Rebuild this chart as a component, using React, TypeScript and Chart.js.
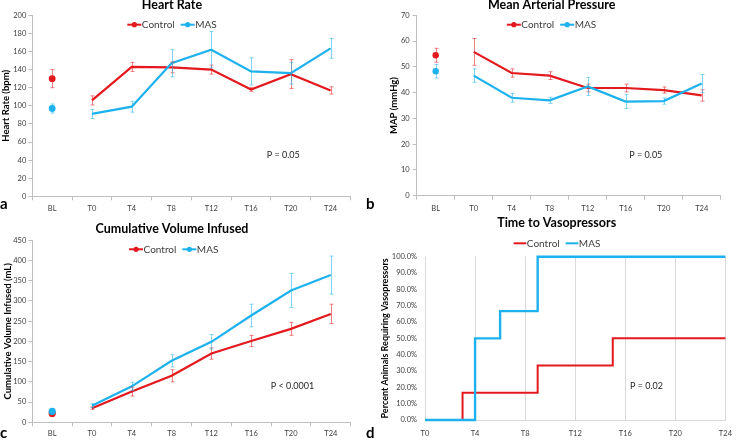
import React, { useEffect, useRef } from 'react';
import { Chart, registerables } from 'chart.js';

Chart.register(...registerables);

// ---------------- data ----------------
const categories = ['BL', 'T0', 'T4', 'T8', 'T12', 'T16', 'T20', 'T24'];

const hrControl = [130, 106, 143, 142.5, 140, 118, 135, 117];
const hrControlErr = [10, 5, 5, 6, 5, 2, 16, 4];
const hrMAS = [97, 91, 99, 147, 162, 138, 136, 163.5];
const hrMASErr = [5, 5, 6, 15, 20, 15, 12, 11];

const mapControl = [54.5, 55.8, 47.6, 46.6, 41.8, 41.8, 41.0, 38.9];
const mapControlErr = [2.7, 5.2, 1.6, 1.5, 1.5, 1.5, 1.2, 2.2];
const mapMAS = [48.3, 46.6, 38.0, 37.0, 42.4, 36.5, 36.7, 43.5];
const mapMASErr = [2.6, 2.6, 1.7, 1.2, 3.5, 2.7, 1.2, 3.5];

const volControl = [22, 35, 76, 115, 170, 201, 231, 268];
const volControlErr = [0, 3, 11, 15, 14, 14, 16, 24];
const volMAS = [27, 41, 89, 152, 199, 264, 326, 364];
const volMASErr = [0, 5, 10, 15, 18, 28, 42, 47];

const vasoControlHours = [0, 3, 9, 15, 24];
const vasoControlPct = [0, 16.7, 33.3, 50, 50];
const vasoMASHours = [0, 4, 6, 9, 24];
const vasoMASPct = [0, 50, 66.7, 100, 100];

const seriesNames = ['Control', 'MAS'];

// ---------------- styles ----------------
const FONT = 'Lato';
const RED = '#E3191E';
const BLUE = '#1DB2EE';
const RED_ERR = 'rgba(227,25,30,0.55)';
const BLUE_ERR = 'rgba(29,178,238,0.55)';
const AXIS = '#BFBFBF';
const GRID = '#D9D9D9';
const TICK = '#404040';

// ---------------- plugins ----------------
const errorBarPlugin = {
  id: 'errorBars',
  afterDatasetsDraw(chart: any) {
    const ctx = chart.ctx;
    chart.data.datasets.forEach((ds: any, di: number) => {
      if (!ds.errors) return;
      const meta = chart.getDatasetMeta(di);
      const yScale = chart.scales[meta.yAxisID];
      ctx.save();
      ctx.strokeStyle = ds.errorColor;
      ctx.lineWidth = 1;
      meta.data.forEach((pt: any, i: number) => {
        const v = ds.data[i];
        const e = ds.errors[i];
        if (v == null || !e) return;
        const x = Math.round(pt.x) + 0.5;
        const yT = yScale.getPixelForValue(v + e);
        const yB = yScale.getPixelForValue(v - e);
        ctx.beginPath();
        ctx.moveTo(x, yT);
        ctx.lineTo(x, yB);
        ctx.moveTo(x - 2, yT);
        ctx.lineTo(x + 2, yT);
        ctx.moveTo(x - 2, yB);
        ctx.lineTo(x + 2, yB);
        ctx.stroke();
      });
      ctx.restore();
    });
  },
};

const textPlugin = {
  id: 'panelText',
  afterDraw(chart: any, _a: any, opts: any) {
    const ctx = chart.ctx;
    const items = (opts && opts.items) || [];
    for (let i = 0; i < items.length; i++) {
      const it = items[i];
      ctx.save();
      ctx.font = it.font;
      ctx.fillStyle = it.color || '#000';
      ctx.textAlign = it.align || 'center';
      ctx.textBaseline = 'middle';
      ctx.fillText(it.text, it.x, it.y);
      ctx.restore();
    }
  },
};

const lineLegendPlugin = {
  id: 'lineLegend',
  afterDraw(chart: any, _a: any, opts: any) {
    if (!opts || !opts.show) return;
    const ctx = chart.ctx;
    ctx.save();
    ctx.font = `${opts.fontSize}px ${FONT}`;
    const items = chart.data.datasets.map((ds: any) => ({ label: ds.label, color: ds.borderColor }));
    const widths = items.map((it: any) => opts.markerW + opts.textGap + ctx.measureText(it.label).width);
    const total = widths.reduce((a: number, b: number) => a + b, 0) + opts.itemGap * (items.length - 1);
    let x = opts.cx - total / 2;
    items.forEach((it: any, i: number) => {
      ctx.strokeStyle = it.color;
      ctx.lineWidth = 2;
      ctx.beginPath();
      ctx.moveTo(x, opts.cy);
      ctx.lineTo(x + opts.markerW, opts.cy);
      ctx.stroke();
      if (opts.dot) {
        ctx.fillStyle = it.color;
        ctx.beginPath();
        ctx.arc(x + opts.markerW / 2, opts.cy, opts.dot, 0, Math.PI * 2);
        ctx.fill();
      }
      ctx.fillStyle = TICK;
      ctx.textAlign = 'left';
      ctx.textBaseline = 'middle';
      ctx.fillText(it.label, x + opts.markerW + opts.textGap, opts.cy);
      x += widths[i] + opts.itemGap;
    });
    ctx.restore();
  },
};

// ---------------- config builders ----------------
function lineDataset(label: string, data: number[], errors: number[], color: string, errColor: string, blRadius: number, order: number) {
  return {
    label,
    data,
    errors,
    errorColor: errColor,
    borderColor: color,
    backgroundColor: color,
    borderWidth: 2.2,
    tension: 0,
    order,
    clip: 6,
    pointRadius: (c: any) => (c.dataIndex === 0 ? blRadius : 0),
    pointHoverRadius: (c: any) => (c.dataIndex === 0 ? blRadius : 0),
    pointBackgroundColor: color,
    pointBorderColor: color,
    pointBorderWidth: 0,
    segment: {
      borderColor: (c: any) => (c.p0DataIndex === 0 ? 'rgba(0,0,0,0)' : undefined),
    },
  };
}

interface CatPanel {
  ctrl: number[];
  ctrlErr: number[];
  mas: number[];
  masErr: number[];
  yMax: number;
  yStep: number;
  yTitle: string;
  yTitlePad: number;
  yW: number;
  yTickPad: number;
  xH: number;
  xTickPad: number;
  blRadius: number;
  padding: any;
  title: string;
  titleX: number;
  titleY: number;
  legendX: number;
  legendY: number;
  pText: string;
  pX: number;
  pY: number;
}

function categoryConfig(p: CatPanel): any {
  const tickFont = { family: FONT, size: 7.5 };
  return {
    type: 'line',
    data: {
      labels: categories,
      datasets: [
        lineDataset(seriesNames[0], p.ctrl, p.ctrlErr, RED, RED_ERR, p.blRadius, 1),
        lineDataset(seriesNames[1], p.mas, p.masErr, BLUE, BLUE_ERR, p.blRadius, 0),
      ],
    },
    options: {
      responsive: false,
      animation: false,
      events: [],
      layout: { padding: p.padding },
      scales: {
        x: {
          type: 'category',
          offset: true,
          grid: { display: true, drawOnChartArea: false, drawTicks: true, tickLength: 4, offset: true, color: AXIS },
          border: { display: true, color: AXIS, width: 1 },
          ticks: { font: tickFont, color: TICK, padding: p.xTickPad, maxRotation: 0, autoSkip: false },
          afterFit: (s: any) => {
            s.height = p.xH;
          },
        },
        y: {
          min: 0,
          max: p.yMax,
          ticks: { stepSize: p.yStep, font: tickFont, color: TICK, padding: p.yTickPad },
          grid: { display: true, drawOnChartArea: false, drawTicks: true, tickLength: 4, color: AXIS },
          border: { display: true, color: AXIS, width: 1 },
          title: {
            display: true,
            text: p.yTitle,
            color: '#000',
            font: { family: FONT, size: 9.5, weight: 'bold' },
            padding: { top: p.yTitlePad, bottom: 0 },
          },
          afterFit: (s: any) => {
            s.width = p.yW;
          },
        },
      },
      plugins: {
        legend: { display: false },
        tooltip: { enabled: false },
        lineLegend: { show: true, cx: p.legendX, cy: p.legendY, fontSize: 10, markerW: 14, textGap: 0.5, itemGap: 6, dot: 2.6 },
        panelText: {
          items: [
            { text: p.title, x: p.titleX, y: p.titleY, font: `bold 12.5px ${FONT}`, color: '#000', align: 'center' },
            { text: p.pText, x: p.pX, y: p.pY, font: `9px ${FONT}`, color: '#262626', align: 'left' },
          ],
        },
      },
    },
    plugins: [errorBarPlugin, lineLegendPlugin, textPlugin],
  };
}

function vasoConfig(): any {
  const tickFont = { family: FONT, size: 7.5 };
  const ctrlPts = vasoControlHours.map((h, i) => ({ x: h, y: vasoControlPct[i] }));
  const masPts = vasoMASHours.map((h, i) => ({ x: h, y: vasoMASPct[i] }));
  return {
    type: 'line',
    data: {
      datasets: [
        { label: seriesNames[0], data: ctrlPts, borderColor: RED, backgroundColor: RED, borderWidth: 2, stepped: 'before', pointRadius: 0, order: 1, clip: 6 },
        { label: seriesNames[1], data: masPts, borderColor: BLUE, backgroundColor: BLUE, borderWidth: 2.4, stepped: 'before', pointRadius: 0, order: 0, clip: 6 },
      ],
    },
    options: {
      responsive: false,
      animation: false,
      events: [],
      layout: { padding: { left: 0, top: 48.7, right: 10.3, bottom: 5 } },
      scales: {
        x: {
          type: 'linear',
          min: 0,
          max: 24,
          ticks: { stepSize: 4, font: tickFont, color: TICK, padding: 9, maxRotation: 0, callback: (v: any) => 'T' + v },
          grid: { display: true, drawOnChartArea: true, drawTicks: false, color: GRID },
          border: { display: true, color: GRID },
          afterFit: (s: any) => {
            s.height = 18;
          },
        },
        y: {
          min: 0,
          max: 100,
          ticks: { stepSize: 10, font: tickFont, color: TICK, padding: 8, callback: (v: any) => Number(v).toFixed(1) + '%' },
          grid: { display: false, drawTicks: false },
          border: { display: false },
          title: {
            display: true,
            text: 'Percent Animals Requiring Vasopressors',
            color: '#000',
            font: { family: FONT, size: 9, weight: 'bold' },
            padding: { top: 9.6, bottom: 0 },
          },
          afterFit: (s: any) => {
            s.width = 55;
          },
        },
      },
      plugins: {
        legend: { display: false },
        tooltip: { enabled: false },
        lineLegend: { show: true, cx: 187, cy: 35.3, fontSize: 10, markerW: 12.7, textGap: 0.5, itemGap: 6, dot: 0 },
        panelText: {
          items: [
            { text: 'Time to Vasopressors', x: 186.7, y: 14.5, font: `bold 12.5px ${FONT}`, color: '#000', align: 'center' },
            { text: 'P = 0.02', x: 260, y: 177.7, font: `9px ${FONT}`, color: '#262626', align: 'left' },
          ],
        },
      },
    },
    plugins: [lineLegendPlugin, textPlugin],
  };
}

const panelA: CatPanel = {
  ctrl: hrControl, ctrlErr: hrControlErr, mas: hrMAS, masErr: hrMASErr,
  yMax: 200, yStep: 20, yTitle: 'Heart Rate (bpm)', yTitlePad: 0.3,
  yW: 32.3, yTickPad: 2, xH: 16, xTickPad: 4, blRadius: 3.4,
  padding: { left: 0, top: 15.3, right: 19.5, bottom: 7.7 },
  title: 'Heart Rate', titleX: 172, titleY: 5,
  legendX: 172, legendY: 24.7,
  pText: 'P = 0.05', pX: 266.7, pY: 155,
};

const panelB: CatPanel = {
  ctrl: mapControl, ctrlErr: mapControlErr, mas: mapMAS, masErr: mapMASErr,
  yMax: 70, yStep: 10, yTitle: 'MAP (mmHg)', yTitlePad: 18.3,
  yW: 46.7, yTickPad: 3, xH: 16, xTickPad: 4, blRadius: 3.2,
  padding: { left: 0, top: 15.3, right: 20.3, bottom: 8.3 },
  title: 'Mean Arterial Pressure', titleX: 181.7, titleY: 5,
  legendX: 181.5, legendY: 24.7,
  pText: 'P = 0.05', pX: 259.3, pY: 155,
};

const panelC: CatPanel = {
  ctrl: volControl, ctrlErr: volControlErr, mas: volMAS, masErr: volMASErr,
  yMax: 450, yStep: 50, yTitle: 'Cumulative Volume Infused (mL)', yTitlePad: 2.6,
  yW: 32.3, yTickPad: 2, xH: 16, xTickPad: 3, blRadius: 3.6,
  padding: { left: 0, top: 20.3, right: 19.3, bottom: 4.7 },
  title: 'Cumulative Volume Infused', titleX: 172, titleY: 9.3,
  legendX: 173.7, legendY: 29.3,
  pText: 'P < 0.0001', pX: 270.7, pY: 165.7,
};

function ChartPanel(props: { left: number; top: number; width: number; height: number; make: () => any }) {
  const ref = useRef<HTMLCanvasElement>(null);
  useEffect(() => {
    const chart = new Chart(ref.current as HTMLCanvasElement, props.make());
    return () => chart.destroy();
  }, []);
  return (
    <canvas
      ref={ref}
      width={props.width}
      height={props.height}
      style={{ position: 'absolute', left: props.left, top: props.top, width: props.width, height: props.height }}
    />
  );
}

const letterStyle: React.CSSProperties = {
  position: 'absolute',
  fontFamily: FONT,
  fontWeight: 'bold',
  fontSize: 15,
  lineHeight: '15px',
  color: '#000',
};

export default function App() {
  return (
    <div style={{ position: 'absolute', left: 0, top: 0, width: 741, height: 443, background: '#fff', overflow: 'hidden' }}>
      <ChartPanel left={0} top={0} width={370} height={220} make={() => categoryConfig(panelA)} />
      <ChartPanel left={370} top={0} width={371} height={220} make={() => categoryConfig(panelB)} />
      <ChartPanel left={0} top={220} width={370} height={223} make={() => categoryConfig(panelC)} />
      <ChartPanel left={370} top={208} width={371} height={235} make={vasoConfig} />
      <div style={{ ...letterStyle, left: 0, top: 196 }}>a</div>
      <div style={{ ...letterStyle, left: 366, top: 196 }}>b</div>
      <div style={{ ...letterStyle, left: 0, top: 424.5 }}>c</div>
      <div style={{ ...letterStyle, left: 366, top: 424.5 }}>d</div>
    </div>
  );
}
